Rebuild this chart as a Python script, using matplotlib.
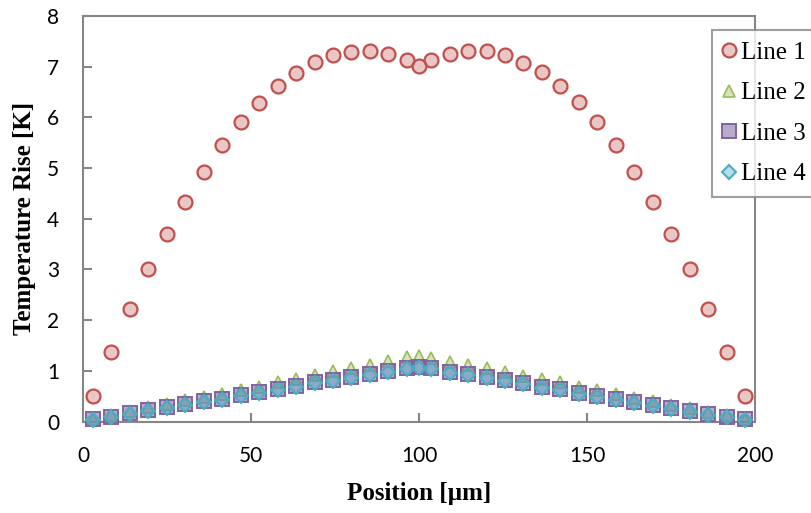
import matplotlib
matplotlib.use("Agg")
import matplotlib.pyplot as plt

# positions along the line (um)
position = [2.9, 8.4, 13.9, 19.4, 24.9, 30.4, 35.9, 41.4, 46.9, 52.4, 57.9, 63.4,
            68.9, 74.4, 79.9, 85.4, 90.9, 96.4, 100.0, 103.6, 109.1, 114.6, 120.1,
            125.6, 131.1, 136.6, 142.1, 147.6, 153.1, 158.6, 164.1, 169.6, 175.1,
            180.6, 186.1, 191.6, 197.1]

line1 = [0.50, 1.38, 2.22, 3.00, 3.70, 4.34, 4.92, 5.45, 5.90, 6.29, 6.62, 6.88,
         7.09, 7.23, 7.29, 7.30, 7.25, 7.14, 7.02, 7.14, 7.26, 7.31, 7.30,
         7.23, 7.08, 6.89, 6.62, 6.30, 5.90, 5.45, 4.92, 4.34, 3.70,
         3.00, 2.22, 1.38, 0.50]

line2 = [0.05, 0.12, 0.21, 0.28, 0.35, 0.42, 0.48, 0.55, 0.62, 0.69, 0.77, 0.84,
         0.92, 0.99, 1.06, 1.12, 1.20, 1.27, 1.30, 1.26, 1.18, 1.12, 1.05,
         0.98, 0.90, 0.83, 0.77, 0.69, 0.62, 0.55, 0.47, 0.40, 0.33,
         0.26, 0.19, 0.12, 0.05]

line3 = [0.04, 0.095, 0.17, 0.23, 0.29, 0.35, 0.40, 0.45, 0.52, 0.58, 0.64, 0.70,
         0.77, 0.82, 0.88, 0.93, 1.00, 1.06, 1.08, 1.05, 0.98, 0.93, 0.87,
         0.81, 0.75, 0.69, 0.64, 0.57, 0.51, 0.45, 0.39, 0.33, 0.27,
         0.21, 0.15, 0.095, 0.04]

line4 = [0.03, 0.08, 0.15, 0.21, 0.27, 0.33, 0.38, 0.43, 0.50, 0.56, 0.62, 0.68,
         0.75, 0.80, 0.86, 0.91, 0.98, 1.04, 1.06, 1.03, 0.96, 0.91, 0.85,
         0.79, 0.73, 0.67, 0.62, 0.55, 0.49, 0.43, 0.37, 0.31, 0.25,
         0.19, 0.13, 0.08, 0.03]

labels = ['Line 1', 'Line 2', 'Line 3', 'Line 4']

fig = plt.figure(figsize=(8.12, 5.13), dpi=100)
ax = fig.add_axes([83 / 812, 1 - 421.5 / 513, 672 / 812, 405.5 / 513])

# marker, size, edge colour, face colour (rgba), edge width
styles = [
    ('o', 10.0, '#c0504d', (0.753, 0.314, 0.302, 0.32), 1.6),
    ('^', 9.0, '#9bbb59', (0.608, 0.733, 0.349, 0.40), 1.2),
    ('s', 9.8, '#8064a2', (0.502, 0.392, 0.635, 0.55), 1.4),
    ('D', 7.2, '#4bacc6', (0.294, 0.675, 0.776, 0.40), 1.5),
]

for ys, lab, (m, ms, ec, fc, lw) in zip([line1, line2, line3, line4], labels, styles):
    ax.plot(position, ys, linestyle='none', marker=m, markersize=ms,
            markeredgecolor=ec, markerfacecolor=fc, markeredgewidth=lw,
            label=lab, clip_on=False, zorder=3)

ax.set_xlim(0, 200)
ax.set_ylim(0, 8)
ax.set_xticks([0, 50, 100, 150, 200])
ax.set_yticks(range(0, 9))

spine_col = '#868686'
for sp in ax.spines.values():
    sp.set_color(spine_col)
    sp.set_linewidth(1.5)

ax.tick_params(axis='both', direction='in', length=6.5, width=1.5, color=spine_col,
               labelsize=15, pad=17)
ax.tick_params(axis='x', pad=18)
for t in ax.get_xticklabels() + ax.get_yticklabels():
    t.set_fontfamily('Lato')

ax.set_xlabel('Position [µm]', fontfamily='Liberation Serif', fontweight='bold',
              fontsize=18, labelpad=11)
ax.set_ylabel('Temperature Rise [K]', fontfamily='Liberation Serif', fontweight='bold',
              fontsize=18, labelpad=8)

leg = fig.legend(loc='upper left', bbox_to_anchor=(712 / 812, 1 - 30 / 513),
                 prop={'family': 'Liberation Serif', 'size': 18},
                 frameon=True, fancybox=False, handlelength=0.5,
                 handletextpad=0.22, borderpad=0.45, labelspacing=0.72,
                 borderaxespad=0)
leg.get_frame().set_edgecolor(spine_col)
leg.get_frame().set_linewidth(1.5)

fig.savefig('out.png', dpi=100)
